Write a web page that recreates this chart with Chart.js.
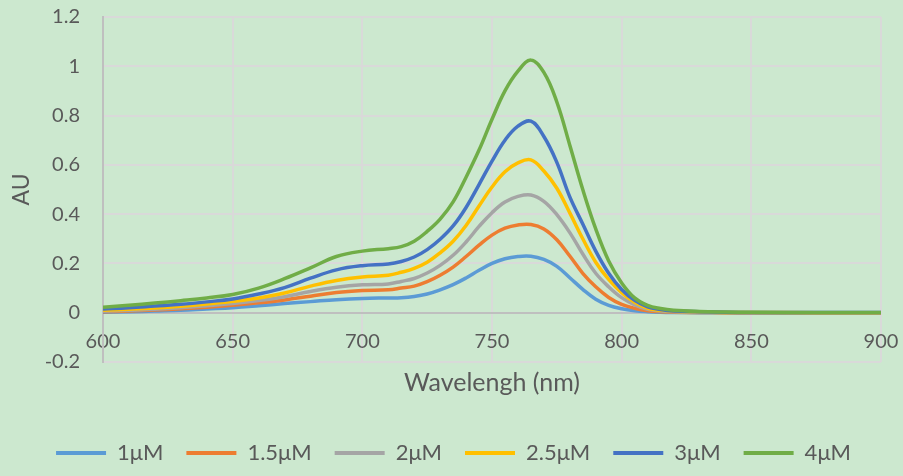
<!DOCTYPE html>
<html>
<head>
<meta charset="utf-8">
<script src="https://cdn.jsdelivr.net/npm/chart.js@4.4.0/dist/chart.umd.min.js"></script>
<style>
  html, body { margin: 0; padding: 0; background: #CCE8CF; }
</style>
</head>
<body>
<canvas id="chart" width="903" height="476"></canvas>
<script>
// wavelength (nm) and absorbance per concentration
var wavelengths = [600,610,620,630,640,650,660,670,680,690,700,710,
	715,720,725,730,735,740,745,750,755,760,765,770,775,780,785,790,795,800,805,810,815,820,
	830,840,850,875,900];

var au1 = [0.002,0.004,0.007,0.010,0.015,0.020,0.028,0.037,0.045,0.053,0.058,0.060,
	0.061,0.066,0.076,0.093,0.114,0.141,0.172,0.200,0.219,0.228,0.229,0.216,0.188,0.142,0.095,0.055,0.030,0.016,0.008,0.004,0.002,0.001,
	0,0,0,0,0];
var au15 = [0.004,0.007,0.011,0.016,0.022,0.030,0.040,0.052,0.067,0.082,0.090,0.093,
	0.100,0.108,0.126,0.152,0.185,0.228,0.274,0.315,0.343,0.356,0.358,0.340,0.296,0.230,0.160,0.105,0.062,0.034,0.018,0.008,0.004,0.002,
	0.001,0,0,0,0];
var au2 = [0.006,0.010,0.014,0.020,0.028,0.037,0.049,0.065,0.086,0.103,0.113,0.117,
	0.127,0.139,0.161,0.192,0.233,0.287,0.350,0.406,0.449,0.472,0.478,0.452,0.398,0.325,0.238,0.160,0.105,0.061,0.032,0.014,0.007,0.004,
	0.002,0.001,0,0,0];
var au25 = [0.010,0.014,0.019,0.026,0.035,0.046,0.060,0.080,0.108,0.131,0.145,0.152,
	0.164,0.180,0.205,0.243,0.290,0.354,0.433,0.510,0.572,0.608,0.620,0.575,0.505,0.405,0.300,0.205,0.135,0.081,0.042,0.018,0.010,0.006,
	0.003,0.001,0.001,0,0];
var au3 = [0.015,0.020,0.027,0.034,0.044,0.056,0.076,0.102,0.140,0.174,0.191,0.198,
	0.208,0.226,0.256,0.298,0.352,0.427,0.520,0.615,0.700,0.757,0.777,0.715,0.610,0.470,0.360,0.250,0.160,0.094,0.050,0.024,0.013,0.007,
	0.004,0.002,0.001,0.001,0.001];
var au4 = [0.022,0.030,0.039,0.049,0.060,0.074,0.100,0.138,0.182,0.228,0.250,0.260,
	0.268,0.290,0.330,0.380,0.450,0.550,0.660,0.785,0.900,0.980,1.025,0.975,0.855,0.680,0.500,0.340,0.210,0.121,0.060,0.030,0.017,0.010,
	0.005,0.003,0.002,0.001,0.001];

var seriesNames = ['1μM','1.5μM','2μM','2.5μM','3μM','4μM'];
var seriesValues = [au1, au15, au2, au25, au3, au4];
var seriesColors = ['#5B9BD5','#ED7D31','#A5A5A5','#FFC000','#4472C4','#70AD47'];

var xTicks = [600,650,700,750,800,850,900];
var yTicks = [-0.2,0,0.2,0.4,0.6,0.8,1,1.2];

var BG = '#CCE8CF';
var TEXT = '#595959';
var GRID = '#D9D9D9';
var AXIS = '#BFBFBF';

Chart.defaults.font.family = 'Lato';
Chart.defaults.color = TEXT;

var datasets = seriesNames.map(function(name, i) {
	return {
		label: name,
		data: wavelengths.map(function(w, j) { return {x: w, y: seriesValues[i][j]}; }),
		borderColor: seriesColors[i],
		backgroundColor: seriesColors[i],
		borderWidth: 3.5,
		pointRadius: 0,
		fill: false,
		tension: 0.4,
		order: seriesNames.length - i   // last series drawn on top
	};
});

var background = {
	id: 'background',
	beforeDraw: function(chart) {
		var c = chart.ctx;
		c.save();
		c.fillStyle = BG;
		c.fillRect(0, 0, chart.width, chart.height);
		c.restore();
	}
};

// legend is centred on the whole picture in the original, not on the padded area
var legendShift = {
	id: 'legendShift',
	afterLayout: function(chart) {
		chart.legend.left += 13;
		chart.legend.right += 13;
	}
};

new Chart(document.getElementById('chart'), {
	type: 'line',
	data: { datasets: datasets },
	plugins: [background, legendShift],
	options: {
		responsive: false,
		animation: false,
		layout: { padding: { left: 0, right: 22, top: 17, bottom: 2 } },
		plugins: {
			tooltip: { enabled: false },
			legend: {
				position: 'bottom',
				labels: {
					boxWidth: 50,
					boxHeight: 4,
					padding: 23,
					color: TEXT,
					font: { size: 22 },
					generateLabels: function(chart) {
						return chart.data.datasets.map(function(ds, i) {
							return { text: ds.label, fillStyle: ds.borderColor, strokeStyle: ds.borderColor,
								lineWidth: 0, hidden: false, datasetIndex: i, fontColor: TEXT };
						});
					}
				}
			}
		},
		scales: {
			x: {
				type: 'linear',
				position: 'bottom',
				min: 600, max: 900,
				afterBuildTicks: function(s) { s.ticks = xTicks.map(function(v) { return {value: v}; }); },
				ticks: { display: false },
				grid: { color: GRID, lineWidth: 2, drawTicks: false },
				border: { display: false },
				title: { display: true, text: 'Wavelengh (nm)', color: TEXT, font: { size: 25 }, padding: { top: 0, bottom: 21 } },
				afterFit: function(s) { s.height = 57; }
			},
			// tick labels sit under the zero line, as in the original
			x2: {
				type: 'linear',
				position: { y: 0 },
				min: 600, max: 900,
				afterBuildTicks: function(s) { s.ticks = xTicks.map(function(v) { return {value: v}; }); },
				ticks: { color: TEXT, font: { size: 20 }, padding: 0 },
				grid: { drawOnChartArea: false, drawTicks: true, tickLength: 17, tickColor: 'rgba(0,0,0,0)', color: 'rgba(0,0,0,0)' },
				border: { display: false }
			},
			y: {
				type: 'linear',
				min: -0.2, max: 1.2,
				afterBuildTicks: function(s) { s.ticks = yTicks.map(function(v) { return {value: v}; }); },
				ticks: {
					color: TEXT, font: { size: 20 }, padding: 0,
					callback: function(v) { return String(+v.toFixed(1)); }
				},
				grid: {
					lineWidth: 2, drawTicks: true, tickLength: 23, tickColor: 'rgba(0,0,0,0)',
					color: function(ctx) { return ctx.tick && ctx.tick.value === 0 ? AXIS : GRID; }
				},
				border: { display: true, color: AXIS, width: 2 },
				title: { display: true, text: 'AU', color: TEXT, font: { size: 23 }, padding: { top: 8, bottom: 0 } },
				afterFit: function(s) { s.width = 103; }
			}
		}
	}
});
</script>
</body>
</html>
